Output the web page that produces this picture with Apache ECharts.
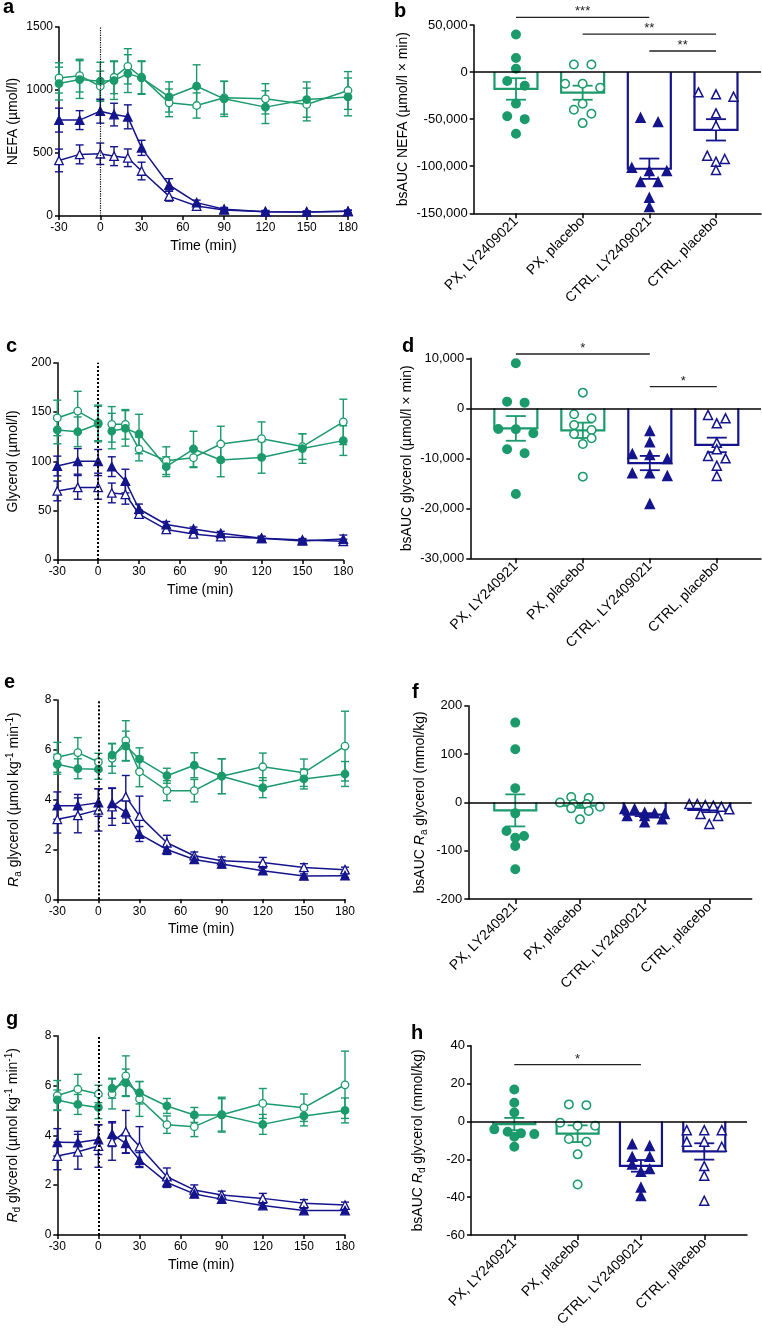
<!DOCTYPE html>
<html>
<head>
<meta charset="utf-8">
<script src="https://cdn.jsdelivr.net/npm/echarts@6/dist/echarts.min.js"></script>
<style>
  html, body { margin: 0; padding: 0; background: #fff; }
  #chart { width: 762px; height: 1330px; }
</style>
</head>
<body>
<div id="chart"></div>
<script>
// sampling times (min)
var times = [-30, -15, 0, 10, 20, 30, 50, 70, 90, 120, 150, 180];

// a: NEFA (µmol/l), mean and SEM
var nefaPxLy = [1051, 1083, 1070, 1075, 1130, 1096, 945, 1030, 930, 864, 924, 945];
var nefaPxLySem = [130, 150, 150, 150, 150, 130, 120, 170, 140, 130, 140, 150];
var nefaPxPl = [1096, 1114, 1030, 1101, 1188, 1101, 898, 877, 938, 930, 885, 996];
var nefaPxPlSem = [120, 130, 120, 130, 140, 130, 110, 100, 130, 120, 130, 150];
var nefaCtLy = [761, 761, 832, 805, 787, 541, 246, 106, 53, 34, 32, 37];
var nefaCtLySem = [95, 75, 95, 90, 95, 60, 50, 20, 15, 10, 8, 10];
var nefaCtPl = [441, 489, 494, 475, 462, 357, 158, 79, 48, 34, 32, 37];
var nefaCtPlSem = [90, 75, 85, 75, 70, 70, 40, 15, 10, 8, 8, 8];

// c: glycerol (µmol/l)
var glyPxLy = [131.8, 130, 137.8, 130.7, 133.4, 127.7, 94.6, 112.5, 101.4, 104, 113, 121];
var glyPxLySem = [14, 15, 18, 18, 18, 20, 10, 18, 17, 16, 15, 15];
var glyPxPl = [144, 151, 139, 137.5, 137.5, 112.5, 100.7, 103.7, 117.6, 123, 115, 140];
var glyPxPlSem = [18, 20, 18, 18, 15, 12, 14, 10, 18, 17, 13, 23];
var glyCtLy = [95.3, 100, 100, 94.6, 80, 51.7, 36, 31.4, 27, 22, 19.3, 21.3];
var glyCtLySem = [10, 13, 12, 10, 12, 5, 3, 2, 2, 2, 1.5, 4];
var glyCtPl = [70, 73.6, 73.6, 68, 66.6, 46.6, 31, 26.4, 23.6, 22, 20.3, 19];
var glyCtPlSem = [10, 12, 12, 10, 10, 4, 2, 2, 2, 2, 1.5, 2];

// e: Ra glycerol (µmol kg-1 min-1)
var raPxLy = [5.42, 5.24, 5.22, 5.79, 6.15, 5.63, 4.96, 5.38, 4.94, 4.48, 4.83, 5.03];
var raPxLySem = [0.4, 0.4, 0.4, 0.45, 0.6, 0.45, 0.3, 0.5, 0.7, 0.4, 0.4, 0.5];
var raPxPl = [5.7, 5.89, 5.51, 5.66, 6.37, 5.12, 4.36, 4.36, 4.94, 5.32, 5.08, 6.15];
var raPxPlSem = [0.6, 0.6, 0.35, 0.6, 0.8, 0.6, 0.4, 0.45, 0.7, 0.55, 0.55, 1.4];
var raCtLy = [3.76, 3.76, 3.88, 3.85, 3.5, 2.62, 2.0, 1.6, 1.42, 1.15, 0.94, 0.95];
var raCtLySem = [0.55, 0.45, 0.55, 0.6, 0.45, 0.3, 0.2, 0.12, 0.15, 0.1, 0.08, 0.08];
var raCtPl = [3.21, 3.37, 3.59, 3.72, 4.12, 3.34, 2.27, 1.75, 1.55, 1.48, 1.28, 1.19];
var raCtPlSem = [0.55, 0.7, 0.85, 0.75, 0.85, 0.8, 0.3, 0.15, 0.15, 0.2, 0.15, 0.1];

// g: Rd glycerol (µmol kg-1 min-1)
var rdPxLy = [5.42, 5.24, 5.12, 5.89, 6.11, 5.71, 5.18, 4.82, 4.82, 4.44, 4.78, 5.0];
var rdPxLySem = [0.4, 0.4, 0.45, 0.4, 0.55, 0.45, 0.3, 0.3, 0.65, 0.4, 0.4, 0.5];
var rdPxPl = [5.6, 5.85, 5.66, 5.66, 6.39, 5.46, 4.43, 4.35, 4.83, 5.28, 5.11, 6.03];
var rdPxPlSem = [0.6, 0.6, 0.35, 0.6, 0.8, 0.7, 0.35, 0.4, 0.7, 0.6, 0.55, 1.35];
var rdCtLy = [3.72, 3.71, 3.83, 4.05, 3.68, 3.01, 2.11, 1.65, 1.44, 1.18, 0.98, 0.98];
var rdCtLySem = [0.55, 0.45, 0.6, 0.5, 0.4, 0.3, 0.2, 0.12, 0.15, 0.1, 0.08, 0.08];
var rdCtPl = [3.17, 3.34, 3.57, 3.75, 4.15, 3.55, 2.34, 1.81, 1.61, 1.47, 1.27, 1.2];
var rdCtPlSem = [0.55, 0.7, 0.85, 0.75, 0.85, 0.8, 0.35, 0.2, 0.15, 0.2, 0.15, 0.12];

// group names on the dot plots
var namesB = ['PX, LY2409021', 'PX, placebo', 'CTRL, LY2409021', 'CTRL, placebo'];
var namesDFH = ['PX, LY240921', 'PX, placebo', 'CTRL, LY2409021', 'CTRL, placebo'];

// b: bsAUC NEFA, per participant
var aucNefaPxLy = [40000, 15000, 3500, -9500, -14500, -33500, -47000, -50000, -65500];
var aucNefaPxPl = [8100, 8100, -12400, -16600, -12400, -33600, -40000, -44300, -54200];
var aucNefaCtLy = [-48500, -53100, -101600, -105100, -105100, -116800, -116800, -133500, -143400];
var aucNefaCtPl = [-23600, -21500, -26100, -43800, -56900, -88800, -95200, -92300, -104000];

// d: bsAUC glycerol
var aucGlyPxLy = [9000, 1330, 1130, -4200, -4130, -5000, -8200, -9000, -17130];
var aucGlyPxPl = [3130, -1200, -2000, -3330, -4330, -5130, -6000, -7130, -13670];
var aucGlyCtLy = [-4530, -6800, -9130, -9330, -10130, -13000, -13000, -13530, -19130];
var aucGlyCtPl = [-1330, -2000, -3000, -8200, -6870, -10000, -9530, -11470, -13530];

// f: bsAUC Ra glycerol
var aucRaPxLy = [165, 110, 29, -22.8, -59.3, -69.7, -73.1, -90.3, -138.6];
var aucRaPxPl = [11, 9, -3.4, -0.5, -3.4, -9, -12.4, -17.9, -35.2];
var aucRaCtLy = [-13.8, -21.4, -22.8, -35.2, -28.3, -13.8, -24.1, -41.4, -28.3];
var aucRaCtPl = [-6.9, -3.4, -9, -3.4, -14.5, -5.5, -24.1, -28.3, -44.8];

// h: bsAUC Rd glycerol
var aucRdPxLy = [16.9, 9.9, 4.75, -5.5, -6.3, -8.1, -6.7, -4.2, -13.4];
var aucRdPxPl = [8.6, 9, -2.3, -0.7, -2.3, -10.7, -9.3, -17.4, -33.3];
var aucRdCtLy = [-12, -13, -18.7, -18.7, -22.7, -25.2, -26.6, -34.9, -39.4];
var aucRdCtPl = [-4.6, -4.6, -4.6, -10.7, -10.7, -13.4, -23.6, -28.7, -41.9];

// significance brackets: [from group, to group], height, stars
var sigB = [[0, 2], [1, 3], [2, 3]], sigBY = [58200, 40400, 22400], sigBTxt = ['***', '**', '**'];
var sigD = [[0, 2], [2, 3]], sigDY = [10860, 4320], sigDTxt = ['*', '*'];
var sigH = [[0, 2]], sigHY = [30], sigHTxt = ['*'];

var FONT = 'Liberation Sans, Arial, sans-serif';
var GREEN = '#1b9a6c', BLUE = '#14148c';

var grids = [
    {left: 59, top: 27, width: 289, height: 189},         // a
    {left: 473.7, top: 25, width: 287.3, height: 188.3},  // b
    {left: 57.3, top: 362.7, width: 286, height: 197.3},  // c
    {left: 470.3, top: 358.3, width: 290.7, height: 200}, // d
    {left: 57.3, top: 700, width: 287.7, height: 199.3},  // e
    {left: 468.3, top: 705.7, width: 283.4, height: 193.3}, // f
    {left: 57.3, top: 1035.7, width: 287.7, height: 199.3}, // g
    {left: 471, top: 1045.7, width: 276, height: 189.3}   // h
];
grids.forEach(function(g) { g.outerBoundsMode = 'none'; g.containLabel = false; });

var axisLineStyle = {color: '#000', width: 1.5};
var richName = {
    i: {fontStyle: 'italic', fontSize: 14, fontFamily: FONT, color: '#000', lineHeight: 18},
    sub: {fontSize: 10, fontFamily: FONT, color: '#000', verticalAlign: 'bottom', lineHeight: 18},
    sup: {fontSize: 10, fontFamily: FONT, color: '#000', verticalAlign: 'top', lineHeight: 18}
};

function yAxis(gi, min, max, step, name, gap, fs, plain) {
    var lbl = {fontSize: fs, color: '#000', fontFamily: FONT, margin: 6};
    if (plain) lbl.formatter = function(v) { return String(v); };
    return {
        gridIndex: gi, type: 'value', min: min, max: max, interval: step,
        name: name, nameLocation: 'middle', nameGap: gap,
        nameTextStyle: {fontSize: 14, color: '#000', fontFamily: FONT, lineHeight: 18, rich: richName},
        axisLine: {show: true, onZero: false, lineStyle: axisLineStyle},
        axisTick: {show: true, length: 4, lineStyle: axisLineStyle},
        axisLabel: lbl,
        splitLine: {show: false}
    };
}

function timeX(gi) {
    return {
        gridIndex: gi, type: 'value', min: -30, max: 180, interval: 30,
        name: 'Time (min)', nameLocation: 'middle', nameGap: 23,
        nameTextStyle: {fontSize: 14, color: '#000', fontFamily: FONT},
        axisLine: {onZero: false, lineStyle: axisLineStyle},
        axisTick: {length: 4, lineStyle: axisLineStyle},
        axisLabel: {fontSize: 12, color: '#000', fontFamily: FONT, margin: 6},
        splitLine: {show: false}
    };
}

function catX(gi, min, max, names) {
    return {
        gridIndex: gi, type: 'value', min: min, max: max,
        axisLine: {onZero: false, lineStyle: axisLineStyle},
        axisTick: {length: 5, customValues: [0, 1, 2, 3], lineStyle: axisLineStyle},
        axisLabel: {
            customValues: [0, 1, 2, 3], rotate: 45, margin: 6,
            fontSize: 14, color: '#000', fontFamily: FONT,
            formatter: function(v) { return names[Math.round(v)]; }
        },
        splitLine: {show: false}
    };
}

function zip(xs, ys, from, to) {
    var out = [];
    for (var i = from; i < to; i++) out.push([xs[i], ys[i]]);
    return out;
}

function errRender(color, cap, lw) {
    return function(params, api) {
        var hi = api.coord([api.value(0), api.value(1) + api.value(2)]);
        var lo = api.coord([api.value(0), api.value(1) - api.value(2)]);
        var x = hi[0];
        var st = {stroke: color, lineWidth: lw};
        return {type: 'group', children: [
            {type: 'line', shape: {x1: x, y1: hi[1], x2: x, y2: lo[1]}, style: st},
            {type: 'line', shape: {x1: x - cap, y1: hi[1], x2: x + cap, y2: hi[1]}, style: st},
            {type: 'line', shape: {x1: x - cap, y1: lo[1], x2: x + cap, y2: lo[1]}, style: st}
        ]};
    };
}

function timePanel(gi, sets, split, dotW) {
    var out = [];
    sets.forEach(function(s) {
        out.push({
            type: 'custom', xAxisIndex: gi, yAxisIndex: gi, z: 2, silent: true,
            renderItem: errRender(s.color, 4, 1.4),
            data: times.map(function(t, i) { return [t, s.y[i], s.sem[i]]; })
        });
        var parts = split ? [[0, 3], [3, times.length]] : [[0, times.length]];
        parts.forEach(function(p) {
            out.push({
                type: 'line', xAxisIndex: gi, yAxisIndex: gi, z: 3, silent: true,
                symbol: s.symbol, symbolSize: s.symbol === 'circle' ? 7.5 : 8.5, showAllSymbol: true,
                lineStyle: {color: s.color, width: 1.5},
                itemStyle: {color: s.filled ? s.color : '#fff', borderColor: s.color, borderWidth: 1.3},
                data: zip(times, s.y, p[0], p[1])
            });
        });
    });
    out[1].markLine = {
        silent: true, symbol: 'none', label: {show: false},
        lineStyle: {color: '#000', width: dotW, type: 'dotted'},
        data: [{xAxis: 0}]
    };
    return out;
}

function mean(a) { return a.reduce(function(s, v) { return s + v; }, 0) / a.length; }
function sem(a) {
    var m = mean(a);
    var ss = a.reduce(function(s, v) { return s + (v - m) * (v - m); }, 0);
    return Math.sqrt(ss / (a.length - 1)) / Math.sqrt(a.length);
}

// spread points that share a row horizontally, like a scatter dot plot
function swarm(vals, center, unitPx, stepPx, rowPx, maxPx, spacing) {
    var idx = vals.map(function(v, i) { return i; }).sort(function(p, q) { return vals[q] - vals[p]; });
    var rows = [], cur = null;
    idx.forEach(function(i) {
        if (cur && (cur.top - vals[i]) / unitPx < rowPx) cur.items.push(i);
        else { cur = {top: vals[i], items: [i]}; rows.push(cur); }
    });
    var out = [];
    rows.forEach(function(r) {
        var n = r.items.length;
        var st = n > 1 ? Math.min(stepPx, maxPx / (n - 1)) : 0;
        r.items.forEach(function(i, k) { out.push([center + (k - (n - 1) / 2) * st / spacing, vals[i]]); });
    });
    return out;
}

function barRender(sets, barW) {
    return function(params, api) {
        var c = api.coord([api.value(0), api.value(1)]);
        var z = api.coord([api.value(0), 0]);
        var hi = api.coord([api.value(0), api.value(1) + api.value(2)]);
        var lo = api.coord([api.value(0), api.value(1) - api.value(2)]);
        var color = sets[params.dataIndex].color;
        var hw = barW / 2, cw = 10;
        var st = {stroke: color, lineWidth: 1.8};
        return {type: 'group', children: [
            {type: 'polyline', shape: {points: [[c[0] - hw, z[1]], [c[0] - hw, c[1]], [c[0] + hw, c[1]], [c[0] + hw, z[1]]]},
                style: {stroke: color, lineWidth: 2.2, fill: null}},
            {type: 'line', shape: {x1: c[0], y1: hi[1], x2: c[0], y2: lo[1]}, style: st},
            {type: 'line', shape: {x1: c[0] - cw, y1: hi[1], x2: c[0] + cw, y2: hi[1]}, style: st},
            {type: 'line', shape: {x1: c[0] - cw, y1: lo[1], x2: c[0] + cw, y2: lo[1]}, style: st}
        ]};
    };
}

function dotPanel(gi, sets, cfg) {
    var unitPx = (cfg.ymax - cfg.ymin) / grids[gi].height;
    var spacing = grids[gi].width / (cfg.xmax - cfg.xmin);
    var out = [{
        type: 'custom', xAxisIndex: gi, yAxisIndex: gi, z: 2, silent: true,
        renderItem: barRender(sets, cfg.barW),
        data: sets.map(function(s, i) { return [i, mean(s.vals), sem(s.vals)]; })
    }];
    sets.forEach(function(s, i) {
        out.push({
            type: 'scatter', xAxisIndex: gi, yAxisIndex: gi, z: 4, silent: true,
            symbol: s.symbol, symbolSize: s.symbol === 'circle' ? 8.5 : 9,
            itemStyle: {color: s.filled ? s.color : '#fff', borderColor: s.color, borderWidth: 1.5, opacity: 1},
            data: swarm(s.vals, i, unitPx, 17.5, 5.4, 40, spacing)
        });
    });
    out[1].markLine = {
        silent: true, symbol: 'none', label: {show: false},
        lineStyle: {color: '#000', width: 1.5, type: 'solid'},
        data: [{yAxis: 0}]
    };
    return out;
}

function sigSeries(gi, pairs, ys, txt) {
    return {
        type: 'custom', xAxisIndex: gi, yAxisIndex: gi, z: 5, silent: true, clip: false,
        data: pairs.map(function(p, i) { return [p[0], ys[i], p[1]]; }),
        renderItem: function(params, api) {
            var a = api.coord([api.value(0), api.value(1)]);
            var b = api.coord([api.value(2), api.value(1)]);
            return {type: 'group', children: [
                {type: 'line', shape: {x1: a[0], y1: a[1], x2: b[0], y2: b[1]}, style: {stroke: '#222', lineWidth: 1.3}},
                {type: 'text', x: (a[0] + b[0]) / 2, y: a[1] + 1,
                    style: {text: txt[params.dataIndex], fill: '#222', font: '13px ' + FONT,
                        align: 'center', verticalAlign: 'bottom', textAlign: 'center', textVerticalAlign: 'bottom'}}
            ]};
        }
    };
}

function grp(y, sem, color, symbol, filled) { return {y: y, sem: sem, color: color, symbol: symbol, filled: filled}; }
function dots(vals, color, symbol, filled) { return {vals: vals, color: color, symbol: symbol, filled: filled}; }

var cfgB = {xmin: -0.634, xmax: 3.675, ymin: -150000, ymax: 50000, barW: 43};
var cfgD = {xmin: -0.68, xmax: 3.66, ymin: -30000, ymax: 10000, barW: 43};
var cfgF = {xmin: -0.726, xmax: 3.655, ymin: -200, ymax: 200, barW: 42};
var cfgH = {xmin: -0.684, xmax: 3.675, ymin: -60, ymax: 40, barW: 42};

var series = [].concat(
    timePanel(0, [
        grp(nefaPxPl, nefaPxPlSem, GREEN, 'circle', false),
        grp(nefaPxLy, nefaPxLySem, GREEN, 'circle', true),
        grp(nefaCtPl, nefaCtPlSem, BLUE, 'triangle', false),
        grp(nefaCtLy, nefaCtLySem, BLUE, 'triangle', true)
    ], false, 1.2),
    dotPanel(1, [
        dots(aucNefaPxLy, GREEN, 'circle', true), dots(aucNefaPxPl, GREEN, 'circle', false),
        dots(aucNefaCtLy, BLUE, 'triangle', true), dots(aucNefaCtPl, BLUE, 'triangle', false)
    ], cfgB),
    [sigSeries(1, sigB, sigBY, sigBTxt)],
    timePanel(2, [
        grp(glyPxPl, glyPxPlSem, GREEN, 'circle', false),
        grp(glyPxLy, glyPxLySem, GREEN, 'circle', true),
        grp(glyCtPl, glyCtPlSem, BLUE, 'triangle', false),
        grp(glyCtLy, glyCtLySem, BLUE, 'triangle', true)
    ], true, 2),
    dotPanel(3, [
        dots(aucGlyPxLy, GREEN, 'circle', true), dots(aucGlyPxPl, GREEN, 'circle', false),
        dots(aucGlyCtLy, BLUE, 'triangle', true), dots(aucGlyCtPl, BLUE, 'triangle', false)
    ], cfgD),
    [sigSeries(3, sigD, sigDY, sigDTxt)],
    timePanel(4, [
        grp(raPxPl, raPxPlSem, GREEN, 'circle', false),
        grp(raPxLy, raPxLySem, GREEN, 'circle', true),
        grp(raCtPl, raCtPlSem, BLUE, 'triangle', false),
        grp(raCtLy, raCtLySem, BLUE, 'triangle', true)
    ], true, 2),
    dotPanel(5, [
        dots(aucRaPxLy, GREEN, 'circle', true), dots(aucRaPxPl, GREEN, 'circle', false),
        dots(aucRaCtLy, BLUE, 'triangle', true), dots(aucRaCtPl, BLUE, 'triangle', false)
    ], cfgF),
    timePanel(6, [
        grp(rdPxPl, rdPxPlSem, GREEN, 'circle', false),
        grp(rdPxLy, rdPxLySem, GREEN, 'circle', true),
        grp(rdCtPl, rdCtPlSem, BLUE, 'triangle', false),
        grp(rdCtLy, rdCtLySem, BLUE, 'triangle', true)
    ], true, 2),
    dotPanel(7, [
        dots(aucRdPxLy, GREEN, 'circle', true), dots(aucRdPxPl, GREEN, 'circle', false),
        dots(aucRdCtLy, BLUE, 'triangle', true), dots(aucRdCtPl, BLUE, 'triangle', false)
    ], cfgH),
    [sigSeries(7, sigH, sigHY, sigHTxt)]
);

var rRa = '{i|R}{sub|a} glycerol (µmol kg{sup|-1} min{sup|-1})';
var rRd = '{i|R}{sub|d} glycerol (µmol kg{sup|-1} min{sup|-1})';

var panelLetters = [['a', 3, 17], ['b', 394, 21], ['c', 6, 356], ['d', 402, 356],
    ['e', 4, 692], ['f', 412, 702], ['g', 6, 1029], ['h', 411, 1043]];

var chart = echarts.init(document.getElementById('chart'));
chart.setOption({
    animation: false,
    backgroundColor: '#fff',
    textStyle: {fontFamily: FONT},
    grid: grids,
    xAxis: [
        timeX(0), catX(1, cfgB.xmin, cfgB.xmax, namesB),
        timeX(2), catX(3, cfgD.xmin, cfgD.xmax, namesDFH),
        timeX(4), catX(5, cfgF.xmin, cfgF.xmax, namesDFH),
        timeX(6), catX(7, cfgH.xmin, cfgH.xmax, namesDFH)
    ],
    yAxis: [
        yAxis(0, 0, 1500, 500, 'NEFA (µmol/l)', 37, 12, true),
        yAxis(1, cfgB.ymin, cfgB.ymax, 50000, 'bsAUC NEFA (µmol/l × min)', 57, 13),
        yAxis(2, 0, 200, 50, 'Glycerol (µmol/l)', 35, 12, true),
        yAxis(3, cfgD.ymin, cfgD.ymax, 10000, 'bsAUC glycerol (µmol/l × min)', 50, 13),
        yAxis(4, 0, 8, 2, rRa, 34, 12, true),
        yAxis(5, cfgF.ymin, cfgF.ymax, 100, 'bsAUC {i|R}{sub|a} glycerol (mmol/kg)', 39, 13),
        yAxis(6, 0, 8, 2, rRd, 35, 12, true),
        yAxis(7, cfgH.ymin, cfgH.ymax, 20, 'bsAUC {i|R}{sub|d} glycerol (mmol/kg)', 44, 13)
    ],
    graphic: panelLetters.map(function(p) {
        return {type: 'text', x: p[1], y: p[2], silent: true,
            style: {text: p[0], font: 'bold 20px ' + FONT, fill: '#000', verticalAlign: 'bottom'}};
    }),
    series: series
});
</script>
</body>
</html>
